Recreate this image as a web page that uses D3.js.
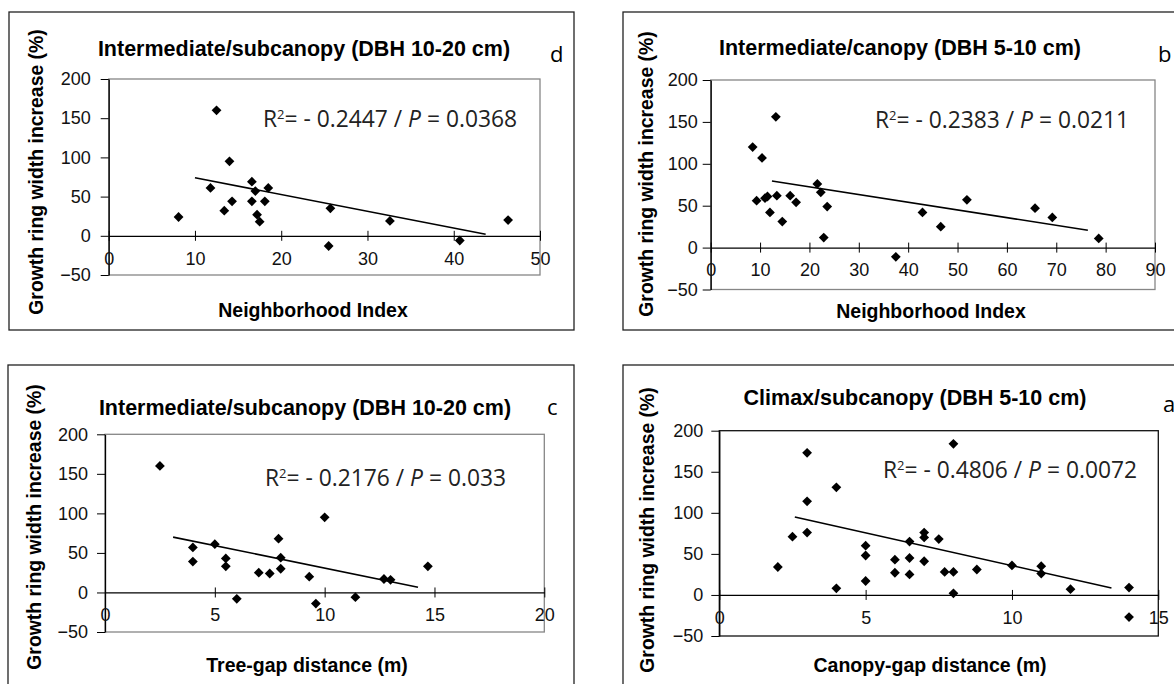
<!DOCTYPE html>
<html>
<head>
<meta charset="utf-8">
<script src="https://cdn.jsdelivr.net/npm/d3@7"></script>
<style>
body { margin: 0; background: #fff; }
svg { display: block; }
</style>
</head>
<body>
<svg width="1174" height="684"></svg>
<script>
// ---- data ----
var panelLetters = ['d', 'b', 'c', 'a'];
var panelTitles = [
    'Intermediate/subcanopy (DBH 10-20 cm)',
    'Intermediate/canopy (DBH 5-10 cm)',
    'Intermediate/subcanopy (DBH 10-20 cm)',
    'Climax/subcanopy (DBH 5-10 cm)'
];
var xTitles = ['Neighborhood Index', 'Neighborhood Index', 'Tree-gap distance (m)', 'Canopy-gap distance (m)'];
var yTitle = 'Growth ring width increase (%)';
var r2Values = [-0.2447, -0.2383, -0.2176, -0.4806];
var pValues = [0.0368, 0.0211, 0.033, 0.0072];

var yTicks = [-50, 0, 50, 100, 150, 200];
var dXTicks = [0, 10, 20, 30, 40, 50];
var bXTicks = [0, 10, 20, 30, 40, 50, 60, 70, 80, 90];
var cXTicks = [0, 5, 10, 15, 20];
var aXTicks = [0, 5, 10, 15];

// d: intermediate/subcanopy vs neighborhood index
var dX = [8.1, 12.5, 11.8, 14.0, 13.4, 14.3, 16.6, 17.0, 16.6, 18.1, 18.5, 17.2, 17.5, 25.7, 25.5, 32.6, 40.7, 46.3];
var dY = [24, 160, 61, 95, 32, 44, 69, 57, 44, 44, 61, 27, 18, 35, -13, 19, -6, 20];
var dTrendX = [10, 43.7];
var dTrendY = [74, 2];

// b: intermediate/canopy vs neighborhood index
var bX = [8.5, 10.4, 13.2, 9.3, 11.0, 11.5, 13.4, 12.0, 14.5, 16.1, 17.3, 21.6, 22.3, 23.6, 22.9, 37.5, 42.9, 46.6, 51.9, 65.7, 69.2, 78.6];
var bY = [120, 107, 156, 56, 59, 61, 62, 42, 31, 62, 54, 76, 66, 49, 12, -11, 42, 25, 57, 47, 36, 11];
var bTrendX = [12.4, 76.4];
var bTrendY = [79.5, 20.7];

// c: intermediate/subcanopy vs tree-gap distance
var cX = [2.5, 4, 4, 5, 5.5, 5.5, 6, 7, 7.5, 7.9, 8, 8, 9.3, 9.6, 10, 11.4, 12.7, 13, 14.7];
var cY = [160, 57, 39, 61, 43, 33, -8, 25, 24, 68, 44, 30, 20, -14, 95, -6, 17, 16, 33];
var cTrendX = [3.1, 14.25];
var cTrendY = [70, 6.7];

// a: climax/subcanopy vs canopy-gap distance
var aX = [2, 2.5, 3, 3, 3, 4, 4, 5, 5, 5, 6, 6, 6.5, 6.5, 6.5, 7, 7, 7, 7.5, 7.7, 8, 8, 8, 8.8, 10, 11, 11, 12, 14, 14];
var aY = [34, 71, 173, 114, 76, 131, 8, 60, 48, 17, 43, 27, 65, 45, 25, 76, 70, 41, 68, 28, 28, 2, 184, 31, 36, 35, 26, 7, 9, -27];
var aTrendX = [2.58, 13.4];
var aTrendY = [95, 8.5];

var svg = d3.select('svg');
var diamond = d3.symbol().type(d3.symbolSquare).size(48);
var arial = "'Liberation Sans', Arial, sans-serif";
var calibri = "'Open Sans', sans-serif";

// layout of each panel (pixel positions only)
var panels = [
    { xs: dX, ys: dY, tx: dTrendX, ty: dTrendY, ticks: dXTicks,
      box: [9, 12, 574, 330], left: 108.7, right: 540, top: 79, bottom: 275, frame: '#868686', yPad: 10,
      titleX: 304, titleY: 56, letterX: 550, letterY: 62, r2X: 263, r2Y: 127,
      yLabX: 43, yLabY: 172, xLabX: 313, xLabY: 317 },
    { xs: bX, ys: bY, tx: bTrendX, ty: bTrendY, ticks: bXTicks,
      box: [623, 12, 1185, 330], left: 710.7, right: 1155, top: 80, bottom: 289.5, frame: '#868686', yPad: 5,
      titleX: 900, titleY: 55, letterX: 1158, letterY: 62, r2X: 875, r2Y: 128,
      yLabX: 653, yLabY: 174, xLabX: 931, xLabY: 318 },
    { xs: cX, ys: cY, tx: cTrendX, ty: cTrendY, ticks: cXTicks,
      box: [8, 365, 574, 700], left: 105, right: 544.3, top: 434.3, bottom: 632, frame: '#868686', yPad: 9,
      titleX: 305, titleY: 415, letterX: 547, letterY: 415, r2X: 265, r2Y: 486,
      yLabX: 41, yLabY: 527, xLabX: 307, xLabY: 672 },
    { xs: aX, ys: aY, tx: aTrendX, ty: aTrendY, ticks: aXTicks,
      box: [623, 365, 1185, 700], left: 719.3, right: 1158.3, top: 430.7, bottom: 636, frame: '#111', yPad: 8,
      titleX: 915, titleY: 405, letterX: 1163, letterY: 412, r2X: 883, r2Y: 478,
      yLabX: 654, yLabY: 530, xLabX: 930, xLabY: 672 }
];

panels.forEach(function(p, i) { drawPanel(p, i); });

function drawPanel(p, i) {
    var g = svg.append('g').attr('class', 'panel');
    var xMax = p.ticks[p.ticks.length - 1];

    var x = d3.scaleLinear().domain([0, xMax]).range([p.left, p.right]);
    var y = d3.scaleLinear().domain([-50, 200]).range([p.bottom, p.top]);

    // outer frame
    g.append('rect')
        .attr('x', p.box[0]).attr('y', p.box[1])
        .attr('width', p.box[2] - p.box[0]).attr('height', p.box[3] - p.box[1])
        .attr('fill', 'none')
        .attr('stroke', '#222')
        .attr('stroke-width', 1.3);

    // plot area border
    g.append('rect')
        .attr('x', x(0)).attr('y', y(200))
        .attr('width', x(xMax) - x(0)).attr('height', y(-50) - y(200))
        .attr('fill', 'none')
        .attr('stroke', p.frame)
        .attr('stroke-width', 1.3);

    // y axis
    var yAxis = g.append('g')
        .attr('transform', 'translate(' + x(0) + ',0)')
        .call(d3.axisLeft(y).tickValues(yTicks).tickSize(8).tickSizeOuter(0).tickPadding(p.yPad));
    styleAxis(yAxis);

    // x axis on the zero line, ticks crossing it
    var xAxis = g.append('g')
        .attr('transform', 'translate(0,' + y(0) + ')')
        .call(d3.axisBottom(x).tickValues(p.ticks).tickSize(5).tickSizeOuter(0));
    styleAxis(xAxis);
    xAxis.selectAll('.tick line').attr('y1', -5);
    xAxis.selectAll('.tick text').attr('y', 16);

    // trend line
    g.append('line')
        .attr('x1', x(p.tx[0])).attr('y1', y(p.ty[0]))
        .attr('x2', x(p.tx[1])).attr('y2', y(p.ty[1]))
        .attr('stroke', '#000')
        .attr('stroke-width', 1.6);

    // points
    g.selectAll('.pt')
        .data(d3.range(p.xs.length))
        .enter()
        .append('path')
        .attr('class', 'pt')
        .attr('d', diamond)
        .attr('fill', '#000')
        .attr('transform', function(k) {
            return 'translate(' + x(p.xs[k]) + ',' + y(p.ys[k]) + ') rotate(45)';
        });

    // titles
    g.append('text')
        .attr('x', p.titleX).attr('y', p.titleY)
        .attr('text-anchor', 'middle')
        .style('font-family', arial)
        .style('font-weight', 'bold')
        .style('font-size', '21.5px')
        .text(panelTitles[i]);

    g.append('text')
        .attr('x', p.letterX).attr('y', p.letterY)
        .style('font-family', calibri)
        .style('font-size', '22px')
        .text(panelLetters[i]);

    g.append('text')
        .attr('x', p.xLabX).attr('y', p.xLabY)
        .attr('text-anchor', 'middle')
        .style('font-family', arial)
        .style('font-weight', 'bold')
        .style('font-size', '19.5px')
        .text(xTitles[i]);

    g.append('text')
        .attr('transform', 'translate(' + p.yLabX + ',' + p.yLabY + ') rotate(-90)')
        .attr('text-anchor', 'middle')
        .style('font-family', arial)
        .style('font-weight', 'bold')
        .style('font-size', '19.4px')
        .text(yTitle);

    // R2 / P annotation
    var r2 = g.append('text')
        .attr('x', p.r2X).attr('y', p.r2Y)
        .style('font-family', calibri)
        .style('font-size', '22.8px')
        .attr('fill', '#222');
    r2.append('tspan').text('R');
    r2.append('tspan').attr('dy', -8).style('font-size', '13px').text('2');
    r2.append('tspan').attr('dy', 8).text('= - ' + Math.abs(r2Values[i]) + ' / ');
    r2.append('tspan').style('font-style', 'italic').text('P');
    r2.append('tspan').text(' = ' + pValues[i]);
}

function styleAxis(ax) {
    ax.attr('font-family', null).attr('font-size', null)
        .style('font-family', arial)
        .style('font-size', '18px');
    ax.select('.domain').attr('stroke', '#000').attr('stroke-width', 1.3);
    ax.selectAll('.tick line').attr('stroke', '#000').attr('stroke-width', 1);
    ax.selectAll('.tick text').attr('fill', '#111');
}
</script>
</body>
</html>
